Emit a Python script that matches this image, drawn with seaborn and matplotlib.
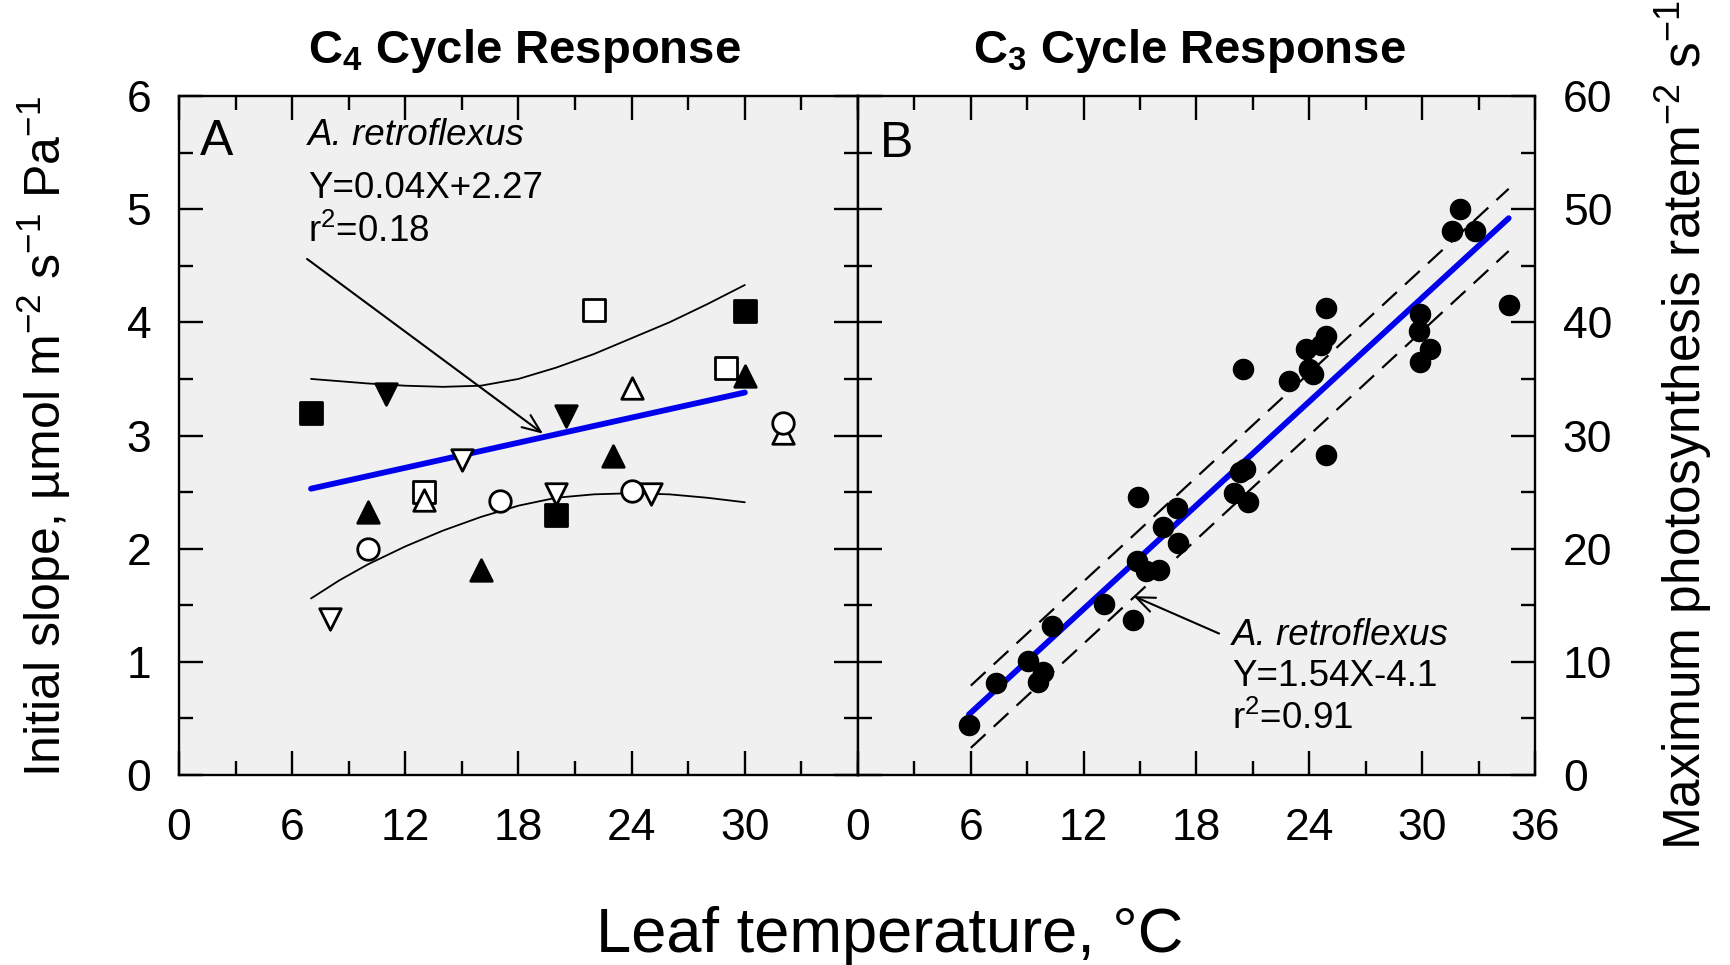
import matplotlib
matplotlib.use("Agg")
import matplotlib.pyplot as plt
from matplotlib.ticker import MultipleLocator
import seaborn as sns

sns.set_theme(style="ticks")
plt.rcParams['font.family'] = ['Liberation Sans', 'DejaVu Sans']
plt.rcParams['mathtext.fontset'] = 'custom'
plt.rcParams['mathtext.rm'] = 'Liberation Sans'
plt.rcParams['mathtext.it'] = 'Liberation Sans:italic'
plt.rcParams['mathtext.bf'] = 'Liberation Sans:bold'
for k in ('text.color', 'axes.labelcolor', 'xtick.color', 'ytick.color',
          'xtick.labelcolor', 'ytick.labelcolor', 'axes.edgecolor'):
    plt.rcParams[k] = 'black'

# ---------------- Panel A data (C4 initial slope) ----------------
fsq_x = [7, 20, 30];            fsq_y = [3.20, 2.30, 4.10]
osq_x = [13, 22, 29];           osq_y = [2.50, 4.11, 3.60]
ftu_x = [10, 16, 23, 30];       ftu_y = [2.32, 1.81, 2.82, 3.53]
otu_x = [13, 24, 32];           otu_y = [2.43, 3.42, 3.02]
ftd_x = [11, 20.5];             ftd_y = [3.37, 3.17]
otd_x = [8, 15, 20, 25];        otd_y = [1.38, 2.78, 2.48, 2.48]
oci_x = [10, 17, 24, 32];       oci_y = [2.00, 2.42, 2.51, 3.11]

regA_x = [7, 30];               regA_y = [2.53, 3.38]
upA_x = [7, 8.5, 10, 12, 14, 16, 18, 20, 22, 24, 26, 28, 30]
upA_y = [3.50, 3.48, 3.46, 3.44, 3.43, 3.44, 3.50, 3.60, 3.72, 3.86, 4.00, 4.16, 4.33]
loA_x = [7, 8.5, 10, 12, 14, 16, 18, 20, 22, 24, 26, 28, 30]
loA_y = [1.56, 1.72, 1.86, 2.02, 2.16, 2.28, 2.38, 2.45, 2.48, 2.49, 2.48, 2.45, 2.41]

# ---------------- Panel B data (C3 max photosynthesis) ----------------
b_x = [5.9, 7.33, 9.05, 9.57, 9.86, 10.3, 13.1, 14.6, 14.9, 14.85, 15.3, 16.0,
       16.2, 16.95, 17.0, 20.0, 20.3, 20.6, 20.75, 20.45, 22.9, 23.8, 24.0, 24.2,
       24.6, 24.9, 24.9, 24.9, 29.9, 29.85, 29.9, 30.4, 31.6, 32.0, 32.8, 34.6]
b_y = [4.45, 8.1, 10.1, 8.2, 9.1, 13.2, 15.1, 13.7, 24.6, 18.9, 18.0, 18.1,
       21.9, 23.6, 20.5, 24.9, 26.8, 27.0, 24.1, 35.9, 34.8, 37.6, 35.9, 35.4,
       38.0, 38.8, 41.3, 28.3, 40.7, 39.2, 36.5, 37.6, 48.1, 50.0, 48.1, 41.5]
regB_x = [5.9, 34.6];  regB_y = [5.35, 49.2]
upB_x = [6.0, 34.6];   upB_y = [7.9, 51.8]
loB_x = [6.0, 34.6];   loB_y = [2.4, 46.3]

xticks = [0, 6, 12, 18, 24, 30, 36]
yticksA = [0, 1, 2, 3, 4, 5, 6]
yticksB = [0, 10, 20, 30, 40, 50, 60]

W, H = 1731, 965
fig = plt.figure(figsize=(W / 100, H / 100), dpi=100)
axA = fig.add_axes([179 / W, 1 - 775 / H, 679 / W, 679 / H])
axB = fig.add_axes([858 / W, 1 - 775 / H, 677 / W, 679 / H])

BG = '#f0f0f0'
TICK_FS = 32
for ax in (axA, axB):
    ax.set_facecolor(BG)
    for s in ax.spines.values():
        s.set_linewidth(1.7)
        s.set_color('black')
    ax.set_xlim(0, 36)
    ax.xaxis.set_minor_locator(MultipleLocator(3))
    ax.tick_params(which='major', direction='in', length=17, width=1.7,
                   top=True, right=True, left=True, bottom=True,
                   labelsize=TICK_FS, colors='black')
    ax.tick_params(which='minor', direction='in', length=10, width=1.7,
                   top=True, right=True, left=True, bottom=True)
    ax.tick_params(axis='x', pad=24)

# ---------- Panel A ----------
axA.set_ylim(0, 6)
axA.set_xticks(xticks[:-1])
axA.set_yticks(yticksA)
axA.yaxis.set_minor_locator(MultipleLocator(0.5))
axA.tick_params(axis='y', pad=20)

line_kw = dict(color='black', linewidth=1.3)
sns.lineplot(x=upA_x, y=upA_y, ax=axA, zorder=2, **line_kw)
sns.lineplot(x=loA_x, y=loA_y, ax=axA, zorder=2, **line_kw)
sns.lineplot(x=regA_x, y=regA_y, ax=axA, color='#0000ee', linewidth=4.2, zorder=3)

mk = dict(s=240, linewidth=2.0, edgecolor='black', zorder=4, ax=axA)
sns.scatterplot(x=fsq_x, y=fsq_y, marker='s', color='black', **mk)
sns.scatterplot(x=osq_x, y=osq_y, marker='s', color='white', **mk)
sns.scatterplot(x=ftu_x, y=ftu_y, marker='^', color='black', **mk)
sns.scatterplot(x=otu_x, y=otu_y, marker='^', color='white', **mk)
sns.scatterplot(x=ftd_x, y=ftd_y, marker='v', color='black', **mk)
sns.scatterplot(x=otd_x, y=otd_y, marker='v', color='white', **mk)
sns.scatterplot(x=oci_x, y=oci_y, marker='o', color='white', **mk)

TXT_FS = 26.5
axA.text(1.13, 5.476, 'A', fontsize=36, va='baseline', ha='left')
axA.text(6.85, 5.567, 'A. retroflexus', fontsize=TXT_FS, style='italic', va='baseline')
axA.text(6.85, 5.10, 'Y=0.04X+2.27', fontsize=TXT_FS, va='baseline')
axA.text(6.85, 4.71, r'r$^{2}$=0.18', fontsize=TXT_FS, va='baseline')
axA.annotate('', xy=(19.3, 3.016), xytext=(6.79, 4.56),
             arrowprops=dict(arrowstyle='->,head_length=1.1,head_width=0.45',
                             color='black', lw=1.5, shrinkA=0, shrinkB=0))

# ---------- Panel B ----------
axB.set_ylim(0, 60)
axB.set_xticks(xticks)
axB.set_yticks(yticksB)
axB.yaxis.set_minor_locator(MultipleLocator(5))
axB.tick_params(axis='y', labelleft=False, labelright=True, pad=20)

dash_kw = dict(color='black', linewidth=1.6, dashes=(9, 5))
axB.plot(upB_x, upB_y, zorder=2, **dash_kw)
axB.plot(loB_x, loB_y, zorder=2, **dash_kw)
sns.lineplot(x=regB_x, y=regB_y, ax=axB, color='#0000ee', linewidth=4.2, zorder=3)
sns.scatterplot(x=b_x, y=b_y, ax=axB, marker='o', color='black', s=210,
                edgecolor='black', linewidth=1, zorder=4)

axB.text(1.18, 54.6, 'B', fontsize=36, va='baseline', ha='left')
axB.text(19.9, 11.46, 'A. retroflexus', fontsize=TXT_FS, style='italic', va='baseline')
axB.text(19.9, 7.9, 'Y=1.54X-4.1', fontsize=TXT_FS, va='baseline')
axB.text(19.9, 4.1, r'r$^{2}$=0.91', fontsize=TXT_FS, va='baseline')
axB.annotate('', xy=(14.66, 15.8), xytext=(19.2, 12.5),
             arrowprops=dict(arrowstyle='->,head_length=1.1,head_width=0.45',
                             color='black', lw=1.5, shrinkA=0, shrinkB=0))

# ---------- Titles and labels ----------
fig.text(524 / W, 1 - 51 / H, r'C$_{\mathbf{4}}$ Cycle Response', fontsize=34,
         fontweight='bold', ha='center', va='center')
fig.text(1189 / W, 1 - 51 / H, r'C$_{\mathbf{3}}$ Cycle Response', fontsize=34,
         fontweight='bold', ha='center', va='center')
fig.text(890 / W, 13 / H, 'Leaf temperature, °C', fontsize=45.5,
         ha='center', va='baseline')
fig.text(44 / W, 1 - 437 / H,
         r'Initial slope, µmol m$^{-2}$ s$^{-1}$ Pa$^{-1}$',
         fontsize=36, rotation=90, ha='center', va='center')
fig.text(1684 / W, 1 - 425 / H,
         r'Maximum photosynthesis ratem$^{-2}$ s$^{-1}$',
         fontsize=37, rotation=90, ha='center', va='center')

fig.savefig('out.png', dpi=100)
